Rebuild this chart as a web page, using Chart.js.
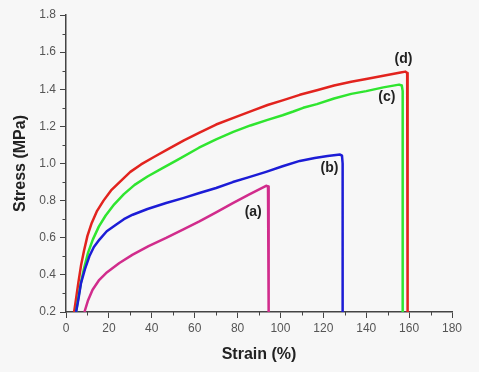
<!DOCTYPE html>
<html>
<head>
<meta charset="utf-8">
<script src="https://cdn.jsdelivr.net/npm/chart.js@4.4.1/dist/chart.umd.min.js"></script>
<style>
  html, body { margin: 0; padding: 0; background: #f7f7f7; }
  #wrap { width: 479px; height: 372px; }
</style>
</head>
<body>
<div id="wrap"><canvas id="c" width="479" height="372"></canvas></div>
<script>
// stress-strain curves, [strain %, stress MPa]
const curveA = [[8.6,0.2],[10.2,0.26],[12.4,0.32],[15.3,0.37],[18.7,0.41],[24.9,0.464],[31.1,0.509],[38.5,0.555],[46.7,0.599],[54.5,0.644],[62.2,0.688],[70,0.737],[77.8,0.787],[85.5,0.834],[93.3,0.88],[94.2,0.876],[94.5,0.85],[94.5,0.2]];
const curveB = [[4.7,0.2],[5.8,0.27],[7,0.356],[8.8,0.43],[10.9,0.5],[13,0.55],[15.6,0.59],[19,0.635],[23.3,0.67],[27,0.7],[31.1,0.724],[38,0.755],[46.7,0.787],[55,0.815],[62.2,0.841],[70,0.868],[77.8,0.9],[85,0.925],[93.3,0.955],[101,0.985],[109,1.014],[116,1.03],[122,1.04],[127.8,1.048],[128.7,1.042],[129,1.0],[129,0.2]];
const curveC = [[4.7,0.2],[5.8,0.28],[7,0.36],[8.5,0.44],[10.3,0.52],[12.5,0.59],[15.3,0.66],[18.5,0.72],[22.5,0.78],[27,0.835],[32,0.885],[38,0.93],[45,0.975],[52,1.02],[62,1.085],[70,1.13],[78,1.17],[86,1.205],[94,1.235],[101,1.26],[106,1.28],[110.6,1.3],[117,1.32],[125,1.35],[133,1.375],[140,1.39],[148,1.41],[155.3,1.425],[156.6,1.42],[157,1.39],[157,0.2]];
const curveD = [[3.8,0.2],[4.8,0.28],[5.8,0.36],[7,0.45],[8.4,0.53],[10,0.61],[12,0.68],[14.5,0.745],[17.5,0.8],[21,0.855],[25,0.9],[30,0.955],[35,0.995],[41,1.035],[48,1.08],[55,1.125],[62,1.165],[70,1.21],[79,1.25],[87,1.285],[94,1.315],[101,1.34],[109,1.37],[117,1.395],[125,1.42],[133,1.44],[140,1.455],[148,1.473],[156,1.49],[158.3,1.495],[159.1,1.487],[159.3,1.45],[159.3,0.2]];

const curveNames = ['(a)', '(b)', '(c)', '(d)'];
const labelAt = [[87.3,0.737],[122.9,0.976],[149.6,1.358],[157.4,1.563]];
const colors = ['#d12c8c', '#1c1cd6', '#2fe52f', '#e2231e'];

const xMin = 0, xMax = 180, xStep = 20;
const yMin = 0.2, yMax = 1.8, yStep = 0.2;

const FONT = '"Liberation Sans", Arial, sans-serif';
const AXIS = '#444';

function toPoints(arr) {
    return arr.map(p => ({x: p[0], y: p[1]}));
}

// small ticks between the labelled ones + the (a)..(d) tags
const extras = {
    id: 'extras',
    afterDraw(chart) {
        const ctx = chart.ctx;
        const xs = chart.scales.x, ys = chart.scales.y;
        ctx.save();
        ctx.strokeStyle = AXIS;
        ctx.lineWidth = 1;
        ctx.beginPath();
        for (let v = xMin + xStep / 2; v < xMax; v += xStep) {
            const px = Math.round(xs.getPixelForValue(v)) + 0.5;
            ctx.moveTo(px, xs.top);
            ctx.lineTo(px, xs.top + 3.5);
        }
        for (let v = yMin + yStep / 2; v < yMax; v += yStep) {
            const py = Math.round(ys.getPixelForValue(v)) + 0.5;
            ctx.moveTo(ys.right - 3.5, py);
            ctx.lineTo(ys.right, py);
        }
        ctx.stroke();

        ctx.fillStyle = '#222';
        ctx.font = 'bold 14px ' + FONT;
        ctx.textAlign = 'center';
        ctx.textBaseline = 'middle';
        for (let i = 0; i < curveNames.length; i++) {
            ctx.fillText(curveNames[i], xs.getPixelForValue(labelAt[i][0]), ys.getPixelForValue(labelAt[i][1]));
        }
        ctx.restore();
    }
};

const series = [curveA, curveB, curveC, curveD];

new Chart(document.getElementById('c'), {
    type: 'line',
    data: {
        datasets: series.map((s, i) => ({
            label: curveNames[i],
            data: toPoints(s),
            borderColor: colors[i],
            borderWidth: 2.5,
            borderJoinStyle: 'round',
            pointRadius: 0,
            tension: 0,
            fill: false
        }))
    },
    options: {
        responsive: false,
        animation: false,
        layout: { padding: { top: 15, right: 27, left: 0, bottom: 0 } },
        plugins: {
            legend: { display: false },
            tooltip: { enabled: false }
        },
        scales: {
            x: {
                type: 'linear',
                min: xMin, max: xMax,
                afterFit: s => { s.height = 60; },
                border: { display: true, color: AXIS, width: 1.5 },
                grid: { display: true, drawOnChartArea: false, drawTicks: true, tickLength: 6, tickColor: AXIS, tickWidth: 1 },
                ticks: { stepSize: xStep, padding: 3, color: '#555', font: { family: FONT, size: 12 }, maxRotation: 0 },
                title: { display: true, text: 'Strain (%)', color: '#222', font: { family: FONT, size: 16, weight: 'bold' }, padding: { top: 0, bottom: 8 } }
            },
            y: {
                type: 'linear',
                min: yMin, max: yMax,
                afterFit: s => { s.width = 66; },
                border: { display: true, color: AXIS, width: 1.5 },
                grid: { display: true, drawOnChartArea: false, drawTicks: true, tickLength: 6, tickColor: AXIS, tickWidth: 1 },
                ticks: { stepSize: yStep, padding: 4, color: '#555', font: { family: FONT, size: 12 },
                         callback: v => v.toFixed(1) },
                title: { display: true, text: 'Stress (MPa)', color: '#222', font: { family: FONT, size: 16, weight: 'bold' }, padding: { top: 11, bottom: 0 } }
            }
        }
    },
    plugins: [extras]
});
</script>
</body>
</html>
